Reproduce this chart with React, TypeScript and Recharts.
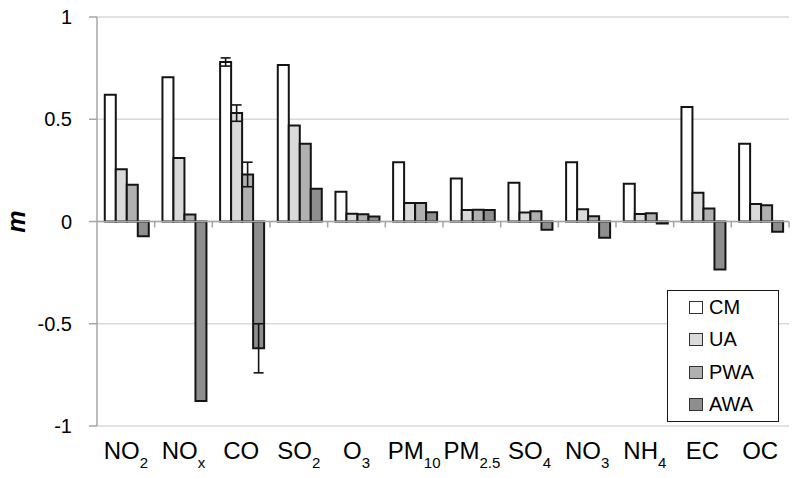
import {
  BarChart,
  Bar,
  XAxis,
  YAxis,
  CartesianGrid,
  ReferenceLine,
  ErrorBar,
  Legend,
} from "recharts";

const species = ["NO", "NO", "CO", "SO", "O", "PM", "PM", "SO", "NO", "NH", "EC", "OC"];
const subscripts = ["2", "x", "", "2", "3", "10", "2.5", "4", "3", "4", "", ""];

const cm = [0.62, 0.705, 0.78, 0.765, 0.145, 0.29, 0.21, 0.19, 0.29, 0.185, 0.56, 0.38];
const ua = [0.255, 0.31, 0.53, 0.47, 0.038, 0.09, 0.056, 0.044, 0.06, 0.037, 0.14, 0.085];
const pwa = [0.18, 0.034, 0.23, 0.38, 0.036, 0.09, 0.058, 0.05, 0.026, 0.04, 0.063, 0.08];
const awa = [-0.072, -0.878, -0.62, 0.16, 0.025, 0.045, 0.056, -0.04, -0.08, -0.01, -0.235, -0.05];

// error bars only exist for CO
const cmErr = [null, null, 0.02, null, null, null, null, null, null, null, null, null];
const uaErr = [null, null, 0.04, null, null, null, null, null, null, null, null, null];
const pwaErr = [null, null, 0.06, null, null, null, null, null, null, null, null, null];
const awaErr = [null, null, 0.12, null, null, null, null, null, null, null, null, null];

const yTicks = [-1, -0.5, 0, 0.5, 1];

const SERIES = [
  { key: "CM", err: "CMerr", fill: "#ffffff" },
  { key: "UA", err: "UAerr", fill: "#dadada" },
  { key: "PWA", err: "PWAerr", fill: "#b0b0b0" },
  { key: "AWA", err: "AWAerr", fill: "#8e8e8e" },
];

const data = species.map((name, i) => ({
  name: name + subscripts[i],
  main: name,
  sub: subscripts[i],
  CM: cm[i],
  UA: ua[i],
  PWA: pwa[i],
  AWA: awa[i],
  CMerr: cmErr[i],
  UAerr: uaErr[i],
  PWAerr: pwaErr[i],
  AWAerr: awaErr[i],
}));

const FONT = "'Liberation Sans', Arial, sans-serif";
const AXIS_GRAY = "#a6a6a6";

function XTick(props: any) {
  const { x, y, index } = props;
  const d = data[index];
  return (
    <text
      x={x}
      y={y + 33}
      textAnchor="middle"
      fontFamily={FONT}
      fontSize={24}
      fill="#000"
    >
      {d.main}
      {d.sub && (
        <tspan fontSize={15} dy={9}>
          {d.sub}
        </tspan>
      )}
    </text>
  );
}

function ZeroAxis(props: any) {
  const { x1, x2, y1 } = props;
  const step = (x2 - x1) / species.length;
  return (
    <g>
      <line x1={x1} x2={x2} y1={y1} y2={y1} stroke={AXIS_GRAY} strokeWidth={1.5} />
      {species.map((_, i) => (
        <line
          key={i}
          x1={x1 + step * (i + 1)}
          x2={x1 + step * (i + 1)}
          y1={y1}
          y2={y1 + 6}
          stroke={AXIS_GRAY}
          strokeWidth={1.5}
        />
      ))}
    </g>
  );
}

function LegendBox() {
  return (
    <div
      style={{
        width: 112,
        height: 132,
        boxSizing: "border-box",
        border: "1.5px solid #1a1a1a",
        background: "#fff",
        fontFamily: FONT,
        fontSize: 20,
        color: "#000",
      }}
    >
      {SERIES.map((s) => (
        <div
          key={s.key}
          style={{ height: 32.5, display: "flex", alignItems: "center", paddingLeft: 21 }}
        >
          <span
            style={{
              width: 14,
              height: 13,
              boxSizing: "border-box",
              border: "1.5px solid #333",
              background: s.fill,
              marginRight: 6,
            }}
          />
          <span>{s.key}</span>
        </div>
      ))}
    </div>
  );
}

export default function App() {
  return (
    <div style={{ position: "absolute", left: 0, top: 0, background: "#fff" }}>
      <BarChart
        width={800}
        height={478}
        data={data}
        margin={{ top: 17, right: 11, left: 0, bottom: 0 }}
        barCategoryGap="13.5%"
        barGap={0}
      >
        <CartesianGrid horizontal vertical={false} stroke="#d9d9d9" strokeWidth={1.5} />
        <XAxis
          dataKey="name"
          height={52}
          axisLine={false}
          tickLine={false}
          tickSize={0}
          tickMargin={0}
          interval={0}
          tick={<XTick />}
        />
        <YAxis
          domain={[-1, 1]}
          ticks={yTicks}
          width={97}
          stroke={AXIS_GRAY}
          strokeWidth={1.5}
          tickSize={8}
          tickMargin={17}
          tick={{ fontFamily: FONT, fontSize: 20, fill: "#000" }}
          label={(p: any) => {
            const vb = p.viewBox;
            const cx = 16;
            const cy = vb.y + vb.height / 2;
            return (
              <text
                x={cx}
                y={cy}
                transform={`rotate(-90 ${cx} ${cy})`}
                textAnchor="middle"
                dominantBaseline="central"
                fontFamily={FONT}
                fontSize={25}
                fontWeight="bold"
                fontStyle="italic"
                fill="#000"
              >
                m
              </text>
            );
          }}
        />
        <YAxis
          yAxisId="r"
          orientation="right"
          domain={[-1, 1]}
          width={0}
          tick={false}
          tickLine={false}
          stroke="#bfbfbf"
          strokeWidth={1.5}
        />
        <ReferenceLine y={0} shape={<ZeroAxis />} />
        {SERIES.map((s) => (
          <Bar
            key={s.key}
            dataKey={s.key}
            fill={s.fill}
            stroke="#141414"
            strokeWidth={2}
            isAnimationActive={false}
          >
            <ErrorBar
              dataKey={s.err}
              direction="y"
              width={5}
              stroke="#141414"
              strokeWidth={1.6}
            />
          </Bar>
        ))}
        <Legend
          layout="horizontal"
          verticalAlign="middle"
          align="center"
          wrapperStyle={{ left: 667, top: 290, width: 112, height: 132 }}
          content={<LegendBox />}
        />
      </BarChart>
    </div>
  );
}
